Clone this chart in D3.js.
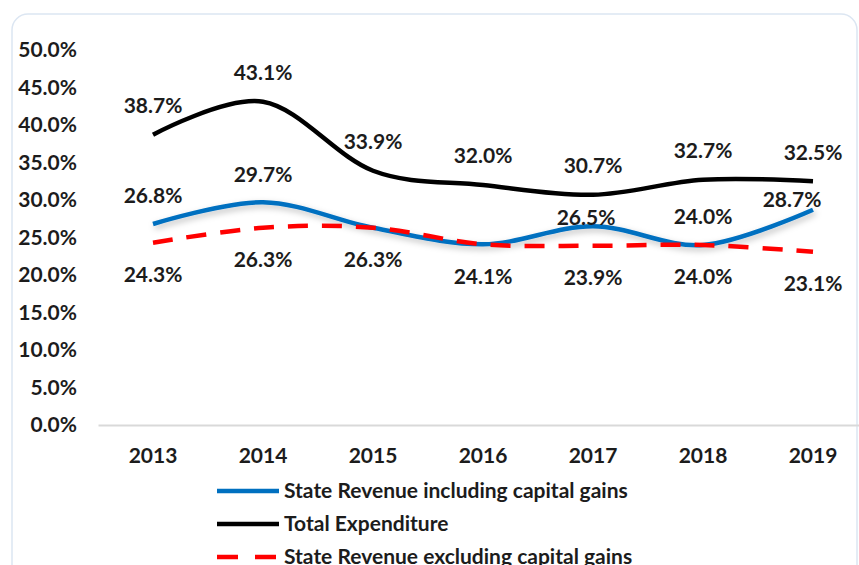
<!DOCTYPE html>
<html>
<head>
<meta charset="utf-8">
<script src="https://cdn.jsdelivr.net/npm/d3@7"></script>
<style>
  body { margin: 0; background: #fff; }
  text { font-family: Lato, "Open Sans", sans-serif; font-weight: bold; fill: #1c1c1c; }
</style>
</head>
<body>
<div id="chart"></div>
<script>
// data (percent)
var years = ["2013", "2014", "2015", "2016", "2017", "2018", "2019"];
var revenueIncl = [26.8, 29.7, 26.3, 24.1, 26.5, 24.0, 28.7];
var totalExpenditure = [38.7, 43.1, 33.9, 32.0, 30.7, 32.7, 32.5];
var revenueExcl = [24.3, 26.3, 26.3, 24.1, 23.9, 24.0, 23.1];
var yTicks = [0, 5, 10, 15, 20, 25, 30, 35, 40, 45, 50];
var seriesNames = ["State Revenue including capital gains", "Total Expenditure", "State Revenue excluding capital gains"];

function main() {
    var width = 859, height = 565;
    var svg = d3.select("#chart").append("svg")
                .attr("width", width).attr("height", height);

    var defs = svg.append("defs");
    defs.append("filter").attr("id", "soft").attr("x", "-10%").attr("y", "-50%")
        .attr("width", "130%").attr("height", "200%")
        .append("feDropShadow").attr("dx", 2).attr("dy", 3).attr("stdDeviation", 3)
        .attr("flood-color", "#000").attr("flood-opacity", 0.25);

    // chart frame
    svg.append("rect").attr("x", 12).attr("y", 14).attr("width", 845).attr("height", 570)
        .attr("rx", 16).attr("fill", "none").attr("stroke", "#dce6f2").attr("stroke-width", 1.5);

    var x = d3.scaleBand().domain(years).range([98, 868]);
    var y = d3.scaleLinear().domain([0, 50]).range([425, 50]);
    var cx = function(i) { return x(years[i]) + x.bandwidth() / 2; };

    // y axis labels only
    var yAxis = svg.append("g").attr("transform", "translate(85,0)")
        .call(d3.axisLeft(y).tickValues(yTicks).tickSize(0).tickPadding(8)
              .tickFormat(function(d) { return d.toFixed(1) + "%"; }));
    yAxis.select(".domain").remove();
    yAxis.selectAll("text").attr("font-size", 21);

    var xAxis = svg.append("g").attr("transform", "translate(0,425)")
        .call(d3.axisBottom(x).tickSize(0).tickPadding(23));
    xAxis.select(".domain").attr("stroke", "#d9d9d9").attr("stroke-width", 2);
    xAxis.selectAll("text").attr("font-size", 21);
    svg.selectAll(".tick text").attr("fill", "#1c1c1c");
    svg.selectAll("g").attr("font-family", null);

    var line = d3.line()
        .x(function(d, i) { return cx(i); })
        .y(function(d) { return y(d); })
        .curve(d3.curveCardinal.tension(0));

    var series = [
        {values: revenueIncl, color: "#0070c0", dash: null, labelDy: -28, filter: "url(#soft)"},
        {values: totalExpenditure, color: "#000000", dash: null, labelDy: -29, filter: null},
        {values: revenueExcl, color: "#ff0000", dash: "20,14", labelDy: 32, filter: null}
    ];

    series.forEach(function(s) {
        svg.append("path").datum(s.values)
            .attr("d", line).attr("fill", "none")
            .attr("stroke", s.color).attr("stroke-width", 4.5)
            .attr("stroke-dasharray", s.dash)
            .attr("filter", s.filter);
    });

    // data labels (some blue ones hidden or nudged, as in the original)
    var hidden = {0: [2, 3], 1: [], 2: []};
    var nudge = {0: {4: [-7, 19], 6: [-21, 18]}, 1: {}, 2: {}};
    series.forEach(function(s, k) {
        s.values.forEach(function(v, i) {
            if (hidden[k].indexOf(i) >= 0) return;
            var n = nudge[k][i] || [0, 0];
            svg.append("text").attr("x", cx(i) + n[0]).attr("y", y(v) + s.labelDy + n[1])
                .attr("dy", "0.35em").attr("text-anchor", "middle").attr("font-size", 21)
                .text(v.toFixed(1) + "%");
        });
    });

    // legend
    var legend = svg.append("g").selectAll("g").data(series).enter().append("g")
        .attr("transform", function(d, i) { return "translate(217," + [491, 524, 557][i] + ")"; });
    legend.append("line").attr("x1", 0).attr("x2", 62).attr("y1", 0).attr("y2", 0)
        .attr("stroke", function(d) { return d.color; }).attr("stroke-width", 4.5)
        .attr("stroke-dasharray", function(d) { return d.dash ? "21,17" : null; });
    legend.append("text").attr("x", 67).attr("dy", "0.35em").attr("font-size", 21)
        .text(function(d, i) { return seriesNames[i]; });
}
main();
</script>
</body>
</html>
